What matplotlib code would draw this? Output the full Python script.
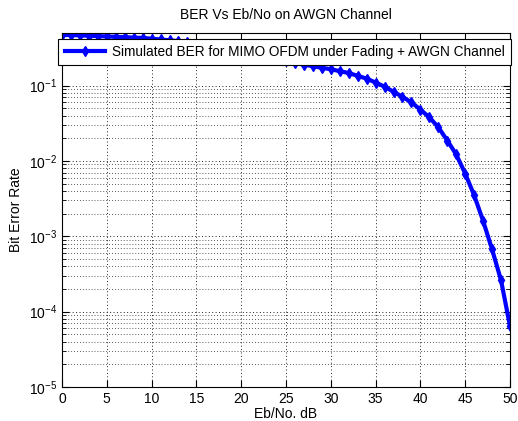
import matplotlib.pyplot as plt
import numpy as np

plt.rcParams['font.family'] = ['Liberation Sans', 'DejaVu Sans']
plt.rcParams['mathtext.fontset'] = 'custom'
plt.rcParams['mathtext.rm'] = 'Liberation Sans'
plt.rcParams['mathtext.it'] = 'Liberation Sans'

# Eb/No in dB and simulated BER
ebno_db = np.arange(0, 51)
ber = [0.47, 0.47, 0.465, 0.46, 0.455, 0.45, 0.445, 0.44, 0.435, 0.43,
       0.42, 0.41, 0.40, 0.39, 0.375, 0.36, 0.345, 0.33, 0.315, 0.30,
       0.285, 0.27, 0.255, 0.24, 0.225, 0.21, 0.20, 0.19, 0.181, 0.173,
       0.165, 0.156, 0.147, 0.135, 0.124, 0.11, 0.097, 0.083, 0.071, 0.060,
       0.048, 0.038, 0.028, 0.0187, 0.0122, 0.0068, 0.0035, 0.0016, 0.00067, 0.00026,
       0.000064]

fig = plt.figure(figsize=(5.18, 4.21), dpi=100)
ax = fig.add_axes([0.1197, 0.0808, 0.8649, 0.8408])

ax.semilogy(ebno_db, ber, color='#0000ff', lw=3, marker='d', ms=5,
            label='Simulated BER for MIMO OFDM under Fading + AWGN Channel')

ax.set_xlim(0, 50)
ax.set_ylim(1e-5, 0.5)
ax.set_xticks(np.arange(0, 51, 5))
ax.grid(True, which='major', ls=(0, (1, 2.5)), color='#222222', lw=0.7)
ax.grid(True, which='minor', axis='y', ls=(0, (1, 2.5)), color='#222222', lw=0.6)
ax.tick_params(which='major', direction='in', top=True, right=True,
               labelsize=10, length=5)
ax.tick_params(which='minor', direction='in', top=True, right=True, length=3)
for s in ax.spines.values():
    s.set_linewidth(0.8)

ax.set_title('BER Vs Eb/No on AWGN Channel', fontsize=10, pad=10)
ax.set_xlabel('Eb/No. dB', fontsize=10, labelpad=1)
ax.set_ylabel('Bit Error Rate', fontsize=10)

leg = ax.legend(loc='upper left', bbox_to_anchor=(-0.008, 0.984), fontsize=9.8,
                fancybox=False, framealpha=1, edgecolor='black',
                borderpad=0.45, handlelength=3, handletextpad=0.5, borderaxespad=0)
leg.get_frame().set_linewidth(0.8)

fig.savefig('out.png')
